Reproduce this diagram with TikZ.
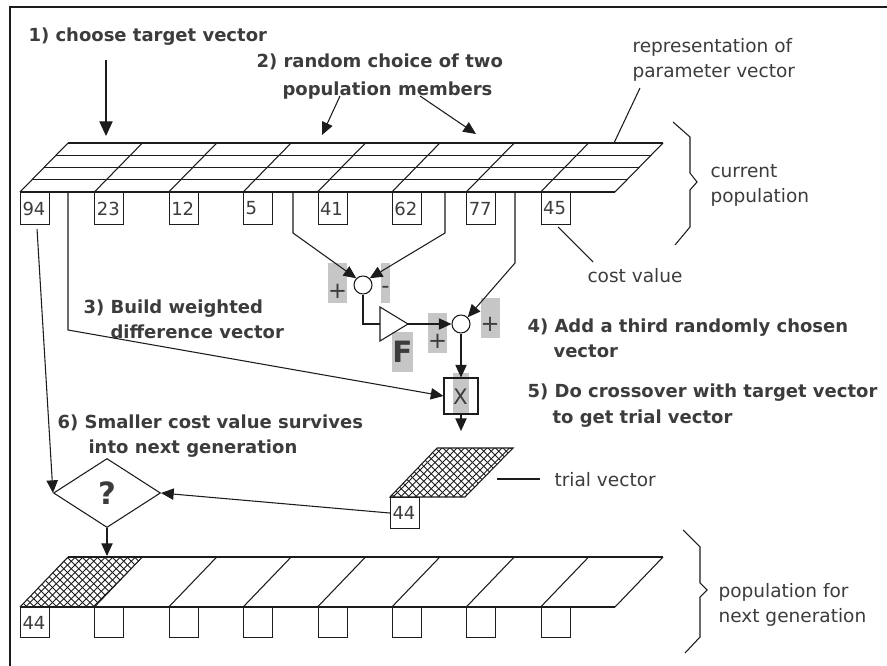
\documentclass[tikz,border=0pt]{standalone}
\usepackage{fontspec}
\setmainfont{DejaVu Sans}
\usetikzlibrary{arrows.meta,shapes.geometric}
\definecolor{ink}{HTML}{1C1C1C}
\definecolor{txtgray}{HTML}{3C3C3C}
\definecolor{hilite}{HTML}{C6C6C6}
\begin{document}
\begin{tikzpicture}[x=0.75pt,y=-0.75pt,line width=0.8pt,color=ink,
  stepnote/.style={font=\fontsize{13.5}{16}\selectfont\bfseries, text=txtgray, inner sep=0pt, anchor=base west},
  lighttext/.style={font=\fontsize{13.9}{16}\selectfont, text=txtgray, inner sep=0pt, anchor=base west},
  costbox/.style={draw, anchor=north west, font=\fontsize{13.5}{16}\selectfont, text=txtgray,
                  text width=18.75pt, align=left, inner xsep=1.5pt, inner ysep=0pt, minimum height=24pt},
  sign/.style={fill=hilite, inner xsep=0pt, inner ysep=0pt, anchor=base, text=txtgray,
               font=\fontsize{17}{17}\selectfont},
  arr/.style={-{Triangle[length=9.5pt,width=8.5pt]}},
  bigarr/.style={-{Triangle[length=11pt,width=10pt]}},
  hatch/.style={line width=0.7pt}]
\useasboundingbox (0,0) rectangle (887,666);

% frame
\draw[line width=1.5pt] (10,666) -- (10,7) -- (887,7);

% ---------- current population ----------
\foreach \t in {0,0.25,0.5,0.75,1}
  \draw (20+48*\t,192-49*\t) -- (615+48*\t,192-49*\t);
\foreach \k in {0,...,8}
  \draw (20+74.375*\k,192) -- ++(48,-49);
\foreach \v [count=\k] in {94,23,12,5,41,62,77,45}
  \node[costbox] (c\k) at (20+74.375*\k-74.375,192) {\v};

% taps on the population members
\coordinate (v1) at (68,192);
\coordinate (v4) at (293,192);
\coordinate (v6) at (445,192);
\coordinate (v7) at (515,192);

% ---------- texts ----------
\node[stepnote] (t1) at (28,42) {1) choose target vector};
\node[stepnote] (t2a) at (256,68) {2) random choice of two};
\node[stepnote] (t2b) at (282,96) {population members};
\node[stepnote] (t3a) at (83,313) {3) Build weighted};
\node[stepnote] (t3b) at (110,338) {difference vector};
\node[stepnote] (t4a) at (527,332) {4) Add a third randomly chosen};
\node[stepnote] (t4b) at (553,357) {vector};
\node[stepnote] (t5a) at (527,397) {5) Do crossover with target vector};
\node[stepnote] (t5b) at (552,423) {to get trial vector};
\node[stepnote] (t6a) at (57,428) {6) Smaller cost value survives};
\node[stepnote] (t6b) at (88,453) {into next generation};

\node[lighttext] (r1) at (632,53) {representation of};
\node[lighttext] (r2) at (632,78) {parameter vector};
\node[lighttext] (p1) at (710,178) {current};
\node[lighttext] (p2) at (710,203) {population};
\node[lighttext] (cv) at (587,282) {cost value};
\node[lighttext] (tvl) at (554,486) {trial vector};
\node[lighttext] (n1) at (718,597) {population for};
\node[lighttext] (n2) at (718,622) {next generation};

% leaders and braces
\coordinate (rl1) at (640,88);  \coordinate (rl2) at (614,143);
\draw (rl1) -- (rl2);
\coordinate (cl1) at (558,227); \coordinate (cl2) at (593,262);
\draw (cl1) -- (cl2);
\coordinate (tl1) at (497,479); \coordinate (tl2) at (540,479);
\draw (tl1) -- (tl2);
\draw (673,122) -- (690,137) -- (690,173) -- (697,182) -- (690,190) -- (690,227) -- (675,245);
\draw (683,530) -- (700,547) -- (700,583) -- (707,590) -- (700,597) -- (700,637) -- (685,653);

% selection arrows
\coordinate (a1s) at (106,60);  \coordinate (a1e) at (106,136);
\draw[bigarr] (a1s) -- (a1e);
\coordinate (a2s) at (340,96);  \coordinate (a2e) at (322,135);
\draw[arr] (a2s) -- (a2e);
\coordinate (a3s) at (420,96);  \coordinate (a3e) at (476,134);
\draw[arr] (a3s) -- (a3e);

% ---------- difference / mutation ----------
\node[sign, text height=26pt, text depth=4pt, minimum width=14.25pt] (pa) at (337.5,298) {+};
\node[sign, text height=22.8pt, text depth=7.2pt, minimum width=6.75pt] (ma) at (385.5,293.4) {-};
\node[sign, text height=26pt, text depth=4pt, minimum width=14.25pt] (pb) at (437.5,348) {+};
\node[sign, text height=24.5pt, text depth=5.5pt, minimum width=13.5pt] (pc) at (490,331) {+};
\node[sign, text height=22.5pt, text depth=7.5pt, minimum width=15.75pt,
      font=\fontsize{22}{22}\selectfont\bfseries] (fl) at (402.5,362) {F};
\node[sign, text height=22.9pt, text depth=7.1pt, minimum width=12pt,
      font=\fontsize{16}{16}\selectfont] (xl) at (460.5,404) {X};

\node[circle, draw, minimum size=13.5pt, inner sep=0pt] (s1) at (363,285) {};
\node[circle, draw, minimum size=13.5pt, inner sep=0pt] (s2) at (461,324) {};
\node[draw, minimum width=25.5pt, minimum height=27pt, inner sep=0pt] (xb) at (461,396) {};

\draw (380,307) -- (408,324) -- (380,341) -- cycle;
\coordinate (ampin) at (380,324);
\coordinate (ampout) at (408,324);

\draw[arr] (v4) -- ++(0,41) -- (s1.135);
\draw[arr] (v6) -- ++(0,41) -- (s1.45);
\draw (s1.south) |- (ampin);
\draw[arr] (ampout) -- (s2.west);
\draw[arr] (v7) -- ++(0,71) -- (s2.45);
\draw[arr] (s2.south) -- (xb.north);
\draw[arr] (v1) -- ++(0,138) -- (xb.west);
\coordinate (tv) at (461,431);
\draw[arr] (xb.south) -- (tv);

% ---------- trial vector ----------
\begin{scope}
  \clip (390,497) -- (465,497) -- (513,448) -- (437,448) -- cycle;
  \foreach \c in {300,307.5,...,570} {
    \draw[hatch] (\c,440) -- ++(65,65);
    \draw[hatch] (\c,440) -- ++(-65,65);
  }
\end{scope}
\draw (390,497) -- (465,497) -- (513,448) -- (437,448) -- cycle;
\node[costbox, minimum height=23.25pt] (t44) at (390,497) {44};

% ---------- selection ----------
\node[diamond, draw, minimum width=80.25pt, minimum height=51.75pt, inner sep=0pt,
      text=txtgray, font=\fontsize{23}{23}\selectfont\bfseries] (q) at (107,493) {?};
\draw[arr] ([xshift=1.5pt,yshift=-3pt]c1.south) -- (q.west);
\draw[arr] (t44.west) -- (q.east);
\coordinate (ng) at (107,556);
\draw[arr] (q.south) -- (ng);

% ---------- next generation ----------
\begin{scope}
  \clip (20,607) -- (94.375,607) -- (142.375,557) -- (68,557) -- cycle;
  \foreach \c in {-60,-52.5,...,230} {
    \draw[hatch] (\c,550) -- ++(65,65);
    \draw[hatch] (\c,550) -- ++(-65,65);
  }
\end{scope}
\draw (20,607) -- (615,607);
\draw (68,557) -- (663,557);
\foreach \k in {0,...,8}
  \draw (20+74.375*\k,607) -- ++(48,-50);
\foreach \v [count=\k] in {44,,,,,,,}
  \node[costbox, minimum height=22.5pt] (g\k) at (20+74.375*\k-74.375,607) {\v};
\end{tikzpicture}
\end{document}
